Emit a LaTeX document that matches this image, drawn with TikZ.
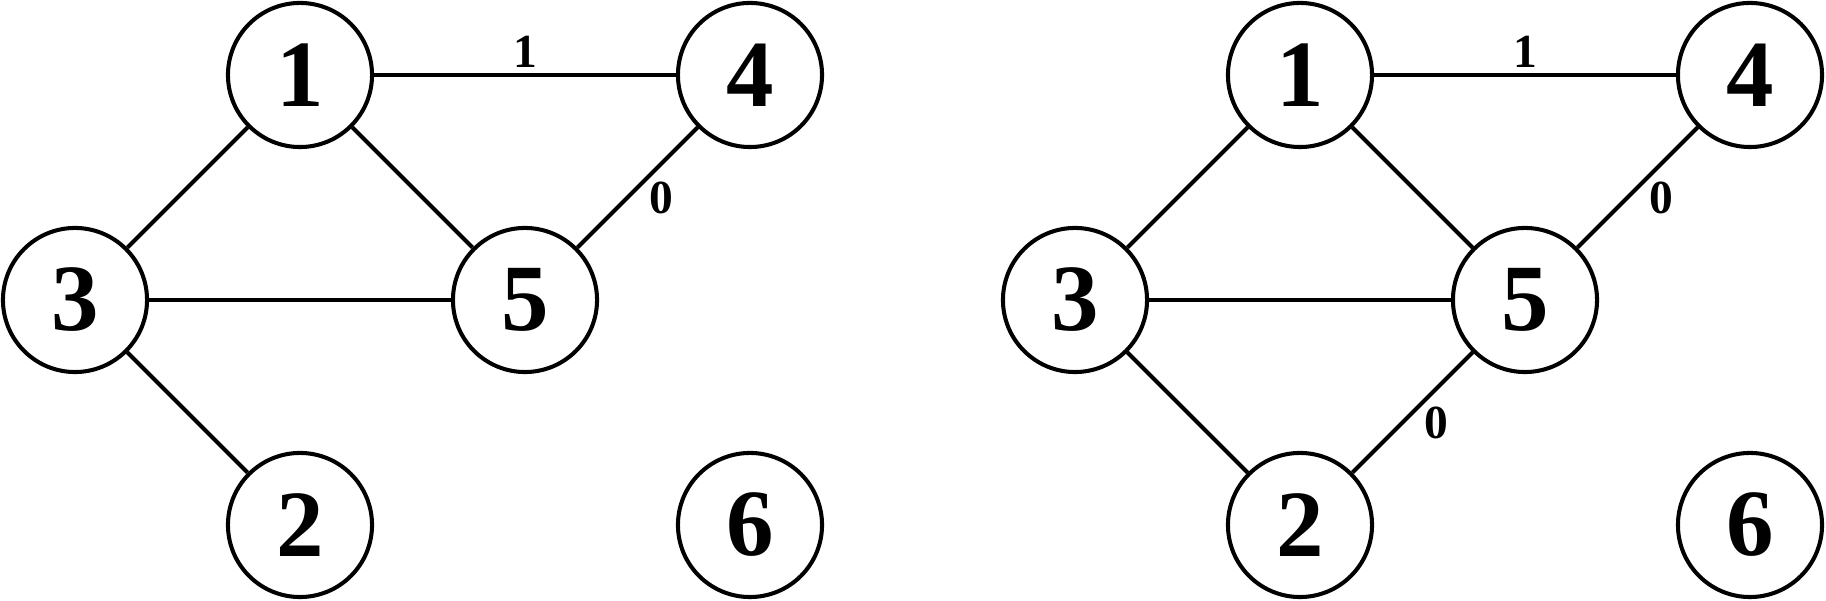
\documentclass[tikz,border=0pt]{standalone}
\usepackage{fontspec}
\setmainfont{Liberation Serif}
\begin{document}
\begin{tikzpicture}[x=0.01cm,y=-0.01cm,
  vtx/.style={circle,draw,line width=1.15pt,minimum size=1.44cm,inner sep=0pt,
    font=\fontsize{27}{27}\selectfont\bfseries},
  edge/.style={line width=1.15pt},
  wlab/.style={font=\fontsize{13.5}{14}\selectfont\bfseries,inner sep=0pt},
  toplab/.style={wlab,midway,yshift=0.23cm},
  sidelab/.style={wlab,midway,xshift=0.24cm,yshift=-0.10cm}]
\useasboundingbox (0,0) rectangle (1826,601);
% left graph
\node[vtx] (a1) at (300,75) {1};
\node[vtx] (a4) at (750,75) {4};
\node[vtx] (a3) at (75,300) {3};
\node[vtx] (a5) at (525,300) {5};
\node[vtx] (a2) at (300,525) {2};
\node[vtx] (a6) at (750,525) {6};
\draw[edge] (a1) -- (a4) node[toplab] {1};
\draw[edge] (a1) -- (a3);
\draw[edge] (a1) -- (a5);
\draw[edge] (a3) -- (a5);
\draw[edge] (a3) -- (a2);
\draw[edge] (a5) -- (a4) node[sidelab] {0};
% right graph
\node[vtx] (b1) at (1300,75) {1};
\node[vtx] (b4) at (1750,75) {4};
\node[vtx] (b3) at (1075,300) {3};
\node[vtx] (b5) at (1525,300) {5};
\node[vtx] (b2) at (1300,525) {2};
\node[vtx] (b6) at (1750,525) {6};
\draw[edge] (b1) -- (b4) node[toplab] {1};
\draw[edge] (b1) -- (b3);
\draw[edge] (b1) -- (b5);
\draw[edge] (b3) -- (b5);
\draw[edge] (b3) -- (b2);
\draw[edge] (b5) -- (b4) node[sidelab] {0};
\draw[edge] (b2) -- (b5) node[sidelab] {0};
\end{tikzpicture}
\end{document}
